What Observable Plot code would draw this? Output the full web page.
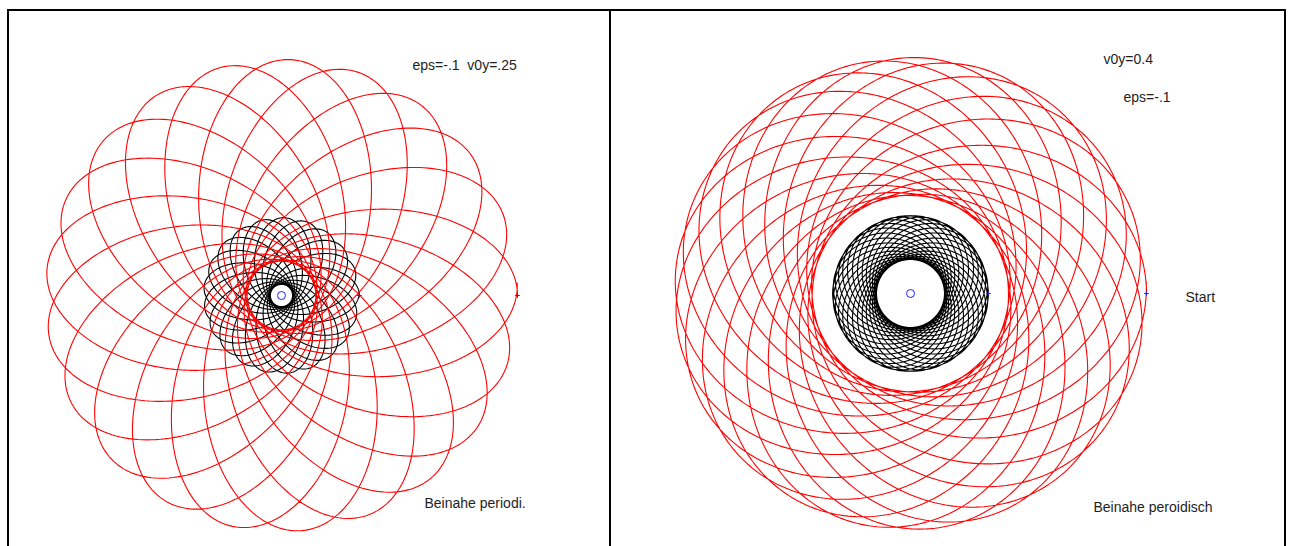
<!DOCTYPE html>
<html>
<head>
<meta charset="utf-8">
<script src="https://cdn.jsdelivr.net/npm/d3@7"></script>
<script src="https://cdn.jsdelivr.net/npm/@observablehq/plot@0.6"></script>
<style>
  html, body { margin: 0; padding: 0; background: #fff; }
  body { width: 1295px; height: 546px; overflow: hidden; position: relative; }
  .rule { position: absolute; background: #000; }
  .panel { position: absolute; }
  .panel svg { display: block; background: transparent; }
</style>
</head>
<body>
<!-- window frames -->
<div class="rule" style="left:7px; top:9px; width:1279px; height:2px"></div>
<div class="rule" style="left:7px; top:9px; width:2px; height:537px"></div>
<div class="rule" style="left:609px; top:9px; width:2px; height:537px"></div>
<div class="rule" style="left:1284px; top:9px; width:2px; height:537px"></div>
<div id="left" class="panel" style="left:9px; top:11px"></div>
<div id="right" class="panel" style="left:611px; top:11px"></div>

<script>
// Orbits, radii in units of the red body's starting distance from the central mass
const orbitPanel   = ["left", "left", "right", "right"];
const orbitColor   = ["black", "red", "black", "red"];
const apoapsis     = [0.33, 1.00, 0.33, 1.00];
const periapsis    = [0.047, 0.145, 0.144, 0.415];
const apsidalShift = [-17, -17, -12, -17];   // degrees the apse line turns per revolution
const revolutions  = [21, 21, 30, 21];

// Annotations
const noteText  = ["eps=-.1  v0y=.25", "Beinahe periodi.", "v0y=0.4", "eps=-.1", "Start", "Beinahe peroidisch"];
const notePanel = ["left", "left", "right", "right", "right", "right"];

// ---- layout (page pixels) ----
const pxPerUnit = 236;
const panelBox = {
  left:  {x0: 9,   y0: 11, w: 600, h: 535, cx: 281, cy: 295},
  right: {x0: 611, y0: 11, w: 673, h: 535, cx: 910, cy: 293}
};
// where each note's baseline starts on the page
const notePos = [[412, 69.5], [424, 507.5], [1103, 63], [1123, 101], [1185, 301], [1093, 511]];

// Precessing conic: r = p / (1 - e cos(k·θ)), starting at apoapsis on the +x axis
function orbitPoints(i) {
  const a = apoapsis[i], q = periapsis[i];
  const e = (a - q) / (a + q);
  const p = a * (1 - e);
  const k = 360 / (360 + apsidalShift[i]);
  const steps = revolutions[i] * 360;
  const total = revolutions[i] * 2 * Math.PI / k;
  return d3.range(steps + 1).map(j => {
    const th = (j / steps) * total;
    const r = p / (1 - e * Math.cos(k * th));
    return {x: r * Math.cos(th), y: r * Math.sin(th), color: orbitColor[i]};
  });
}

function drawPanel(name) {
  const b = panelBox[name];
  const lcx = b.cx - b.x0, lcy = b.cy - b.y0;
  const orbits = d3.range(apoapsis.length).filter(i => orbitPanel[i] === name);
  const starts = orbits.map(i => ({x: apoapsis[i], y: 0}));
  const notes = d3.range(noteText.length).filter(i => notePanel[i] === name).map(i => ({
    text: noteText[i],
    x: (notePos[i][0] - b.cx) / pxPerUnit,
    y: (b.cy - notePos[i][1]) / pxPerUnit
  }));
  const marks = [];
  // black orbits first, red drawn over them
  for (const c of ["black", "red"]) {
    for (const i of orbits.filter(i => orbitColor[i] === c)) {
      marks.push(Plot.line(orbitPoints(i), {x: "x", y: "y", stroke: c, strokeWidth: 1.1, curve: "linear"}));
    }
  }
  marks.push(
    Plot.dot([{x: 0, y: 0}], {x: "x", y: "y", r: 4, stroke: "#2020ff", fill: "white", strokeWidth: 1}),
    Plot.dot(starts, {x: "x", y: "y", symbol: "plus", r: 1.6, stroke: "#2020ff", strokeWidth: 1}),
    Plot.text(notes, {x: "x", y: "y", text: "text", textAnchor: "start", lineAnchor: "bottom",
      fontSize: 14, fontFamily: "Liberation Sans, Arial, sans-serif", fill: "#1e1e1e"})
  );
  const chart = Plot.plot({
    width: b.w, height: b.h,
    margin: 0,
    style: {background: "transparent", overflow: "visible"},
    x: {domain: [-lcx / pxPerUnit, (b.w - lcx) / pxPerUnit], range: [0, b.w], axis: null},
    y: {domain: [-(b.h - lcy) / pxPerUnit, lcy / pxPerUnit], range: [b.h, 0], axis: null},
    marks
  });
  document.getElementById(name).appendChild(chart);
}

drawPanel("left");
drawPanel("right");
</script>
</body>
</html>
